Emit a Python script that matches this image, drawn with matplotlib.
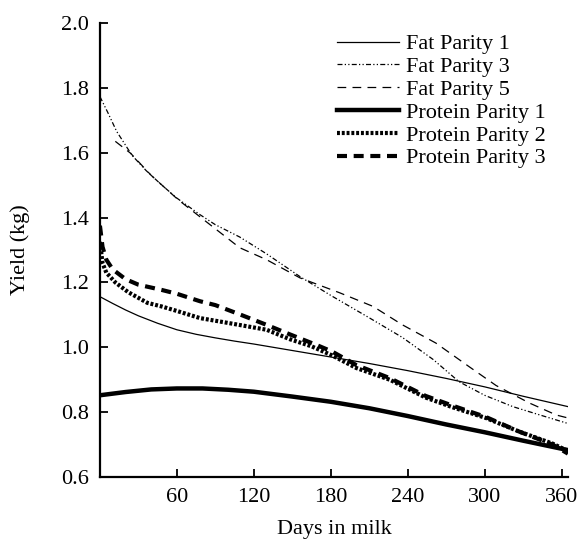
import numpy as np
import matplotlib.pyplot as plt

plt.rcParams['font.family'] = ['Liberation Serif', 'DejaVu Serif']

# lactation curves (days in milk, yield kg)
fat1_d = [0, 10, 20, 30, 45, 60, 75, 90, 105, 120, 150, 180, 210, 240, 270, 300, 330, 365]
fat1_y = [1.156, 1.135, 1.115, 1.097, 1.074, 1.054, 1.040, 1.029, 1.019, 1.010, 0.990, 0.970, 0.950, 0.928, 0.904, 0.878, 0.849, 0.817]

fat3_d = [0, 6, 13, 25, 36, 48, 60, 78, 90, 109, 130, 156, 180, 210, 236, 260, 280, 300, 322, 340, 365]
fat3_y = [1.773, 1.725, 1.666, 1.592, 1.545, 1.501, 1.460, 1.409, 1.378, 1.340, 1.288, 1.218, 1.160, 1.091, 1.030, 0.962, 0.894, 0.852, 0.817, 0.795, 0.765]

fat5_d = [12, 24, 40, 61, 82, 109, 130, 156, 187, 213, 236, 262, 288, 309, 335, 356, 365]
fat5_y = [1.635, 1.598, 1.530, 1.455, 1.390, 1.307, 1.270, 1.214, 1.168, 1.126, 1.069, 1.013, 0.940, 0.882, 0.828, 0.791, 0.782]

prot1_d = [0, 20, 40, 60, 80, 100, 120, 150, 180, 210, 240, 270, 300, 330, 365]
prot1_y = [0.852, 0.862, 0.870, 0.873, 0.873, 0.869, 0.863, 0.848, 0.832, 0.812, 0.788, 0.762, 0.738, 0.712, 0.683]

prot2_d = [0, 2, 5, 12, 22, 37, 48, 60, 78, 100, 130, 148, 165, 181, 200, 226, 254, 275, 301, 327, 353, 365]
prot2_y = [1.325, 1.260, 1.230, 1.200, 1.170, 1.137, 1.126, 1.112, 1.090, 1.075, 1.054, 1.025, 1.003, 0.975, 0.936, 0.900, 0.845, 0.815, 0.782, 0.740, 0.703, 0.680]

prot3_d = [0, 2, 5, 10, 20, 30, 48, 60, 78, 90, 110, 130, 148, 169, 181, 200, 226, 254, 275, 301, 327, 353, 365]
prot3_y = [1.375, 1.310, 1.270, 1.240, 1.210, 1.193, 1.177, 1.165, 1.142, 1.130, 1.100, 1.069, 1.040, 1.007, 0.987, 0.945, 0.905, 0.850, 0.820, 0.785, 0.740, 0.700, 0.672]

fig = plt.figure(figsize=(5.81, 5.46), dpi=100)
ax = fig.add_axes([0.172, 0.1264, 0.8055, 0.8315])

ax.plot(fat1_d, fat1_y, color='black', lw=0.9, label='Fat Parity 1')
ax.plot(fat3_d, fat3_y, color='black', lw=0.9, ls=(0, (4, 1.8, 1, 1.8, 1, 1.8)), label='Fat Parity 3')
ax.plot(fat5_d, fat5_y, color='black', lw=0.9, ls=(0, (7, 5)), label='Fat Parity 5')
ax.plot(prot1_d, prot1_y, color='black', lw=3.2, label='Protein Parity 1')
ax.plot(prot2_d, prot2_y, color='black', lw=3.0, ls=(0, (0.7, 0.45)), label='Protein Parity 2')
ax.plot(prot3_d, prot3_y, color='black', lw=3.0, ls=(0, (2.4, 1.6)), label='Protein Parity 3')

ax.set_xlim(0, 365)
ax.set_ylim(0.6, 2.0)
ax.set_xticks([60, 120, 180, 240, 300, 360])
ax.set_yticks([0.6, 0.8, 1.0, 1.2, 1.4, 1.6, 1.8, 2.0])
ax.set_yticklabels(['0.6', '0.8', '1.0', '1.2', '1.4', '1.6', '1.8', '2.0'])
ax.tick_params(direction='in', length=6, width=1.3, labelsize=16, pad=8)
for s in ['top', 'right']:
    ax.spines[s].set_visible(False)
for s in ['left', 'bottom']:
    ax.spines[s].set_linewidth(1.6)

ax.set_xlabel('Days in milk', fontsize=16, labelpad=9)
ax.set_ylabel('Yield (kg)', fontsize=16, labelpad=22)

ax.legend(loc='upper left', bbox_to_anchor=(0.506, 0.976), frameon=False,
          fontsize=16, handlelength=2.8, handletextpad=0.32,
          labelspacing=0.1, borderpad=0, borderaxespad=0)

fig.savefig('out.png', dpi=100)
